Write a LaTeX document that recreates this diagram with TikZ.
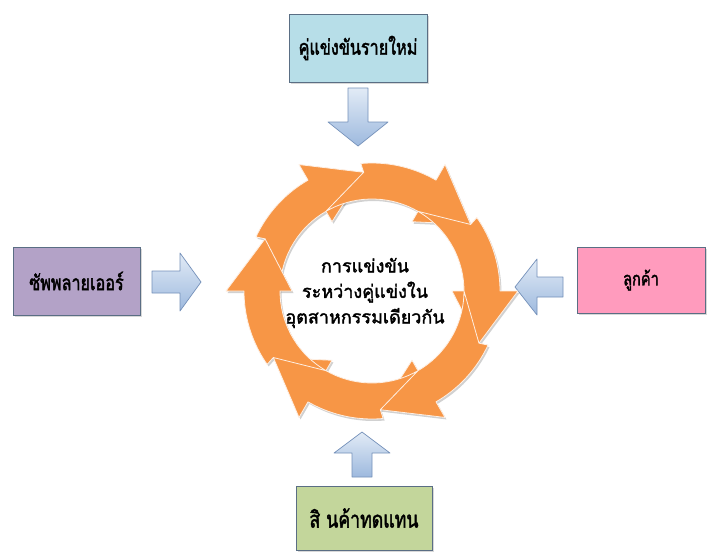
\documentclass[tikz,border=0pt]{standalone}
\usepackage{fontspec}
\newfontfamily\thaifont[Script=Thai, FakeBold=1.8]{Loma}
\newfontfamily\thainarrow[Script=Thai, FakeBold=1.8, FakeStretch=0.77]{Loma}
\usetikzlibrary{shadows}
\definecolor{ringorange}{HTML}{F79646}
\definecolor{entrantfill}{HTML}{B7DEE8}
\definecolor{supplierfill}{HTML}{B3A2C7}
\definecolor{buyerfill}{HTML}{FF9BBD}
\definecolor{substitutefill}{HTML}{C3D69B}
\definecolor{boxline}{HTML}{5A6E84}
\definecolor{forcetop}{HTML}{E2EBF6}
\definecolor{forcebottom}{HTML}{9DB9DE}
\definecolor{forceline}{HTML}{7591BA}

\tikzset{
  forcebox/.style={draw=boxline, line width=0.8pt, inner sep=4pt,
    font=\thainarrow\fontsize{21}{24}\selectfont,
    drop shadow={shadow xshift=1.5pt, shadow yshift=-1.5pt, opacity=0.3}},
  forcearrow/.style={draw=forceline, line width=0.7pt, line join=round,
    top color=forcetop, bottom color=forcebottom},
  ringpiece/.style={fill=ringorange, draw=white!85!ringorange, line width=0.8pt, line join=round},
  ringshade/.style={fill=black, opacity=0.18}
}

% one curved arrow of the cycle; #1 = style, #2 = angle of the head base
\newcommand\ringarrow[2]{%
  \pgfmathsetmacro\ra{#2-60}%
  \pgfmathsetmacro\rb{#2}%
  \pgfmathsetmacro\rt{#2-35}%
  \pgfmathsetmacro\rh{#2+26}%
  \path[#1] plot[domain=\ra:\rb, samples=18] ({372+92*cos(\x)},{291+92*sin(\x)})
    -- ({372+80*cos(\rb)},{291+80*sin(\rb)})
    -- ({372+119*cos(\rh)},{291+119*sin(\rh)})
    -- ({372+146*cos(\rb)},{291+146*sin(\rb)})
    -- plot[domain=\rb:\rt, samples=18] ({372+128*cos(\x)},{291+128*sin(\x)})
    -- ({372+119*cos(\rt+1)},{291+119*sin(\rt+1)})
    -- cycle;%
}

\begin{document}
\begin{tikzpicture}[x=1pt, y=-1pt]
  \useasboundingbox[fill=white] (0,0) rectangle (710,554);

  % the five forces
  \node[forcebox, fill=entrantfill, minimum width=138pt, minimum height=68pt]
    (entrants) at (358,48) {คู่แข่งขันรายใหม่};
  \node[forcebox, fill=supplierfill, minimum width=127pt, minimum height=68pt]
    (suppliers) at (76.5,281) {ซัพพลายเออร์};
  \node[forcebox, fill=buyerfill, minimum width=128pt, minimum height=66pt,
    font=\thainarrow\fontsize{19}{22}\selectfont]
    (buyers) at (641,280) {ลูกค้า};
  \node[forcebox, fill=substitutefill, minimum width=136pt, minimum height=64pt,
    font=\thainarrow\fontsize{23}{26}\selectfont]
    (substitutes) at (364,518) {สิ นค้าทดแทน};

  % block arrows pointing at the rivalry cycle
  \path[forcearrow] (348,88) -- (368,88) -- (368,122) -- (388,122) -- (358,146)
    -- (328,122) -- (348,122) -- cycle;
  \path[forcearrow] (152,271) -- (180,271) -- (180,253) -- (201,282) -- (180,311)
    -- (180,293) -- (152,293) -- cycle;
  \path[forcearrow] (563,277) -- (537,277) -- (537,259) -- (515,287) -- (537,315)
    -- (537,297) -- (563,297) -- cycle;
  \path[forcearrow] (352,477) -- (372,477) -- (372,453) -- (390,453) -- (362,432)
    -- (334,453) -- (352,453) -- cycle;

  % rivalry cycle: shadows first, then the six arrows
  \begin{scope}[shift={(1.5,2)}]
    \foreach \hb in {240,300,...,540} {\ringarrow{ringshade}{\hb}}
  \end{scope}
  \foreach \hb in {240,300,...,540} {\ringarrow{ringpiece}{\hb}}

  \node[align=center, font=\thaifont\fontsize{18}{25.5}\selectfont]
    (rivalry) at (365,293) {การแข่งขัน\\ระหว่างคู่แข่งใน\\อุตสาหกรรมเดียวกัน};
\end{tikzpicture}
\end{document}
